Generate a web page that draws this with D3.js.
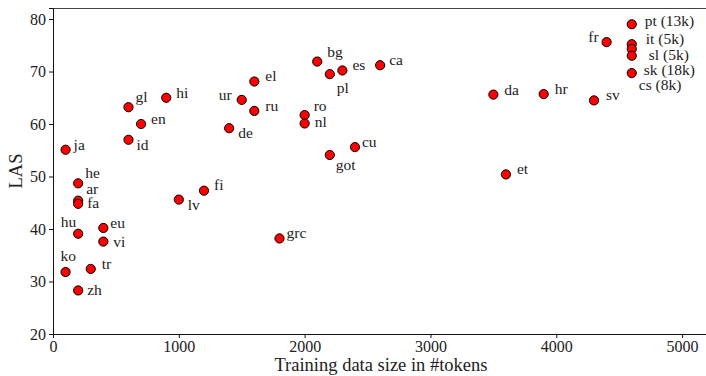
<!DOCTYPE html>
<html lang="en">
<head>
<meta charset="UTF-8">
<title>LAS vs training data size</title>
<script src="https://d3js.org/d3.v7.min.js"></script>
<style>
  body { margin: 0; background: #fff; }
  svg text { font-family: "Liberation Serif", "Times New Roman", Times, "DejaVu Serif", serif; fill: #222; }
  .lbl { font-size: 15.5px; }
  .axis-title { font-size: 18.5px; }
</style>
</head>
<body>
<div id="chart"></div>
<script>
  // languages (label shown next to each point)
  const langs = ["ja", "gl", "en", "id", "hi", "ur", "de", "he", "ar", "fa", "hu", "eu", "vi", "ko", "tr", "zh",
                 "lv", "fi", "el", "ru", "bg", "pl", "es", "ca", "ro", "nl", "cu", "got", "grc",
                 "da", "hr", "sv", "et", "fr", "pt (13k)", "it (5k)", "sl (5k)", "sk (18k)", "cs (8k)"];
  // training data size in #tokens
  const tokens = [100, 600, 700, 600, 900, 1500, 1400, 200, 200, 200, 200, 400, 400, 100, 300, 200,
                  1000, 1200, 1600, 1600, 2100, 2200, 2300, 2600, 2000, 2000, 2400, 2200, 1800,
                  3500, 3900, 4300, 3600, 4400, 4600, 4600, 4600, 4600, 4600];
  // LAS
  const las = [55.1, 63.2, 60.0, 57.0, 65.0, 64.6, 59.2, 48.7, 45.4, 44.8, 39.1, 40.2, 37.6, 31.8, 32.4, 28.3,
               45.6, 47.3, 68.1, 62.5, 71.9, 69.5, 70.2, 71.2, 61.7, 60.1, 55.6, 54.1, 38.2,
               65.6, 65.7, 64.5, 50.4, 75.6, 79.0, 75.2, 74.3, 73.0, 69.7];
  const xTicks = [0, 1000, 2000, 3000, 4000, 5000];
  const yTicks = [20, 30, 40, 50, 60, 70, 80];

  // label placement relative to the marker: [dx, dy, anchor]
  const place = {
    "ja": [8, 0], "gl": [7, -5], "en": [10, 0], "id": [8, 10], "hi": [10, 0], "ur": [-10, 0, "end"],
    "de": [9, 10], "he": [7, -5], "ar": [8, -7], "fa": [9, 4], "hu": [-2, -7, "end"], "eu": [7, 0],
    "vi": [10, 5], "ko": [-5, -11], "tr": [11, 0], "zh": [9, 5], "lv": [9, 10], "fi": [10, -1],
    "el": [11, 0], "ru": [11, 0], "bg": [10, -5], "pl": [7, 19], "es": [10, 0], "ca": [9, 0],
    "ro": [9, -4], "nl": [10, 4], "cu": [7, 0], "got": [6, 15], "grc": [7, 0],
    "da": [11, 0], "hr": [11, 0], "sv": [12, 0], "et": [11, 0], "fr": [-8, 0, "end"],
    "pt (13k)": [13, 2], "it (5k)": [14, 0], "sl (5k)": [17, 11], "sk (18k)": [12, 19], "cs (8k)": [7, 17]
  };

  const width = 706, height = 376;
  const margin = { top: 8, right: 0, bottom: 42, left: 53 };

  const svg = d3.select("#chart").append("svg")
      .attr("width", width)
      .attr("height", height);

  const x = d3.scaleLinear().domain([0, 5190]).range([margin.left, width - margin.right]);
  const y = d3.scaleLinear().domain([20, 82.1]).range([height - margin.bottom, margin.top]);

  // top frame line
  svg.append("line")
      .attr("x1", margin.left).attr("x2", width)
      .attr("y1", margin.top + 0.5).attr("y2", margin.top + 0.5)
      .attr("stroke", "#444");

  svg.append("g")
      .attr("transform", `translate(0,${height - margin.bottom})`)
      .call(d3.axisBottom(x).tickValues(xTicks).tickFormat(d3.format("d")).tickSizeOuter(0).tickSize(4).tickPadding(3));

  svg.append("g")
      .attr("transform", `translate(${margin.left},0)`)
      .call(d3.axisLeft(y).tickValues(yTicks).tickSizeOuter(0).tickSize(4).tickPadding(3));

  svg.selectAll(".domain").attr("stroke", "#111");
  svg.selectAll(".tick line").attr("stroke", "#111");
  svg.selectAll(".tick text")
      .attr("fill", "#222")
      .attr("font-size", 16)
      .style("font-family", "'Liberation Serif', 'Times New Roman', serif");

  svg.append("text")
      .attr("class", "axis-title")
      .attr("x", 381)
      .attr("y", 371)
      .attr("text-anchor", "middle")
      .text("Training data size in #tokens");

  svg.append("text")
      .attr("class", "axis-title")
      .attr("transform", `translate(22,${(margin.top + height - margin.bottom) / 2}) rotate(-90)`)
      .attr("text-anchor", "middle")
      .text("LAS");

  const data = langs.map((l, i) => ({ lang: l, tokens: tokens[i], las: las[i] }));

  svg.append("g")
    .selectAll("circle")
    .data(data)
    .enter().append("circle")
      .attr("cx", d => x(d.tokens))
      .attr("cy", d => y(d.las))
      .attr("r", 4.6)
      .attr("fill", "#ff0000")
      .attr("stroke", "#000")
      .attr("stroke-width", 1);

  svg.append("g")
    .selectAll("text")
    .data(data)
    .enter().append("text")
      .attr("class", "lbl")
      .attr("x", d => x(d.tokens) + place[d.lang][0])
      .attr("y", d => y(d.las) + place[d.lang][1])
      .attr("text-anchor", d => place[d.lang][2] || "start")
      .text(d => d.lang);
</script>
</body>
</html>
